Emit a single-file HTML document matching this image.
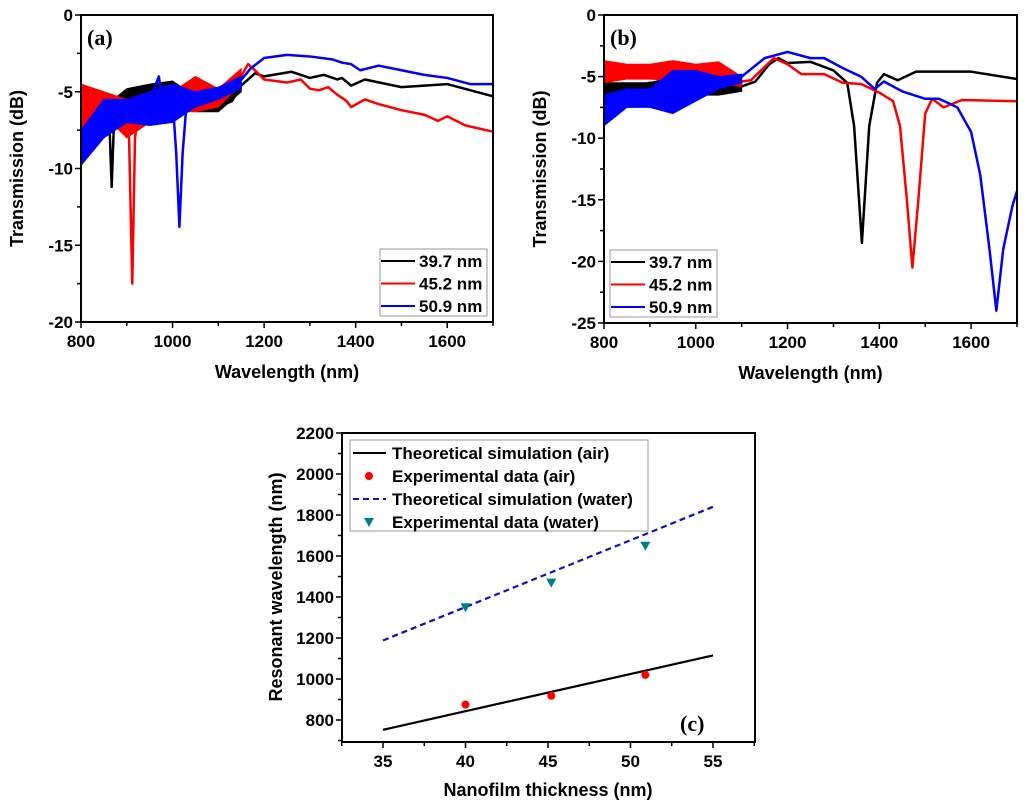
<!DOCTYPE html>
<html><head><meta charset="utf-8"><style>
html,body{margin:0;padding:0;background:#fff;}
svg{display:block;font-family:"Liberation Sans",Arial,sans-serif;font-weight:bold;}
</style></head><body>
<svg id="fig" width="1024" height="804" viewBox="0 0 1024 804" xmlns="http://www.w3.org/2000/svg"></svg>
<script>
// ---------- Panel (a) data ----------
const aBlackX=[800,820,850,862,867,872,880,900,950,1000,1020,1050,1080,1100,1130,1150,1180,1200,1260,1300,1330,1360,1370,1390,1420,1500,1600,1650,1700];
const aBlackY=[-6,-5.8,-6.2,-7,-11.2,-7,-5.5,-5,-4.9,-4.8,-5.5,-5.7,-6,-6,-5.6,-4.6,-3.8,-4,-3.7,-4.1,-3.9,-4.2,-4.1,-4.6,-4.2,-4.7,-4.5,-4.9,-5.3];
const aRedX=[800,810,830,850,880,900,905,912,918,925,950,1000,1050,1065,1080,1100,1140,1165,1180,1200,1250,1280,1300,1320,1340,1360,1380,1390,1420,1450,1500,1550,1580,1600,1640,1700];
const aRedY=[-6,-5,-5.5,-5.5,-6.5,-7,-8,-17.5,-8,-6.5,-6.5,-5.5,-5.5,-4.5,-5.7,-5.5,-4.5,-3.2,-3.6,-4.2,-4.4,-4.2,-4.8,-4.9,-4.7,-5.2,-5.6,-6,-5.5,-5.8,-6.2,-6.5,-6.9,-6.6,-7.2,-7.6];
const aBlueX=[800,820,840,870,900,950,970,980,1000,1008,1015,1022,1030,1050,1100,1140,1170,1200,1250,1300,1350,1370,1390,1410,1450,1500,1550,1600,1650,1700];
const aBlueY=[-9,-8,-6.5,-6,-6.2,-5.6,-4,-6,-5.5,-9,-13.8,-9,-6,-5.5,-5,-4.6,-3.5,-2.8,-2.6,-2.7,-2.9,-3.1,-3.2,-3.6,-3.3,-3.6,-3.9,-4.1,-4.5,-4.5];
const aBandX=[800,850,900,950,1000,1050,1100,1150];
const aBlackUp=[-6,-6,-4.8,-4.5,-4.3,-5.3,-5.5,-4.6];
const aBlackLo=[-7,-7,-6.5,-6,-6,-6.3,-6.3,-5];
const aRedUp=[-4.5,-5,-5.5,-5,-5,-4,-4.8,-3.5];
const aRedLo=[-7.5,-6.5,-8,-7,-6.3,-6.3,-6,-4.5];
const aBlueUp=[-7.5,-5.5,-5.5,-5,-4.5,-5,-4.7,-4];
const aBlueLo=[-9.8,-8,-7,-7.2,-7,-6,-5.5,-4.8];
// ---------- Panel (b) data ----------
const bBlackX=[800,850,900,1000,1100,1130,1160,1180,1200,1250,1300,1330,1345,1362,1378,1395,1410,1440,1480,1600,1700];
const bBlackY=[-6,-6,-5.5,-5.5,-5.8,-5.4,-4,-3.5,-3.9,-3.8,-4.5,-5.5,-9,-18.5,-9,-5.5,-4.8,-5.3,-4.6,-4.6,-5.2];
const bRedX=[800,900,1000,1040,1080,1120,1170,1200,1230,1280,1320,1360,1400,1430,1445,1460,1472,1485,1500,1515,1540,1580,1700];
const bRedY=[-4.5,-4.5,-4.5,-4.5,-5.5,-5.3,-3.5,-4,-4.8,-4.8,-5.5,-5.6,-6.3,-7,-9,-15,-20.5,-15,-8,-6.8,-7.5,-6.9,-7];
const bBlueX=[800,830,870,900,950,1000,1100,1150,1200,1250,1280,1320,1360,1390,1410,1450,1500,1530,1570,1600,1620,1640,1655,1670,1690,1700];
const bBlueY=[-8.5,-7.5,-6.7,-6.5,-6,-5.5,-5,-3.5,-3,-3.5,-3.5,-4.3,-5,-6,-5.4,-6.2,-6.8,-6.8,-7.5,-9.5,-13,-19,-24,-19,-15.5,-14.3];
const bBandX=[800,850,900,950,1000,1050,1100];
const bBlackUp=[-5.5,-5.5,-5.5,-5,-5.2,-5.5,-5.5];
const bBlackLo=[-6.6,-6.6,-6.5,-6.5,-6.5,-6.5,-6.2];
const bRedUp=[-3.7,-4,-4,-3.7,-4,-3.8,-5];
const bRedLo=[-5.5,-5.2,-5.2,-5.3,-5.3,-5.6,-5.8];
const bBlueUp=[-6.5,-6,-6,-4.5,-4.5,-5,-4.8];
const bBlueLo=[-9,-7.5,-7.5,-8,-7,-6,-5.5];
// ---------- Panel (c) data ----------
const cTheoryX=[35,55];
const cTheoryAir=[752,1115];
const cTheoryWater=[1188,1840];
const cExpX=[40,45.2,50.9];
const cExpAir=[875,918,1020];
const cExpWater=[1350,1470,1650];
const specXTicks=[800,1000,1200,1400,1600];
const aYTicks=[0,-5,-10,-15,-20];
const bYTicks=[0,-5,-10,-15,-20,-25];
const cXTicks=[35,40,45,50,55];
const cYTicks=[800,1000,1200,1400,1600,1800,2000,2200];
const legendLabels=["39.7 nm","45.2 nm","50.9 nm"];

const NS="http://www.w3.org/2000/svg";
const svg=document.getElementById('fig');
function el(tag,attrs,parent,text){const e=document.createElementNS(NS,tag);for(const k in attrs)e.setAttribute(k,attrs[k]);if(text!==undefined)e.textContent=text;(parent||svg).appendChild(e);return e;}
function scale(d0,d1,r0,r1){return v=>r0+(v-d0)*(r1-r0)/(d1-d0);}

function frame(g,L,T,R,B){
  const r=el('rect',{x:L,y:T,width:R-L,height:B-T,fill:'none',stroke:'#000','stroke-width':2},g);
  
}
function xAxis(g,sx,B,ticks,minorStep,lo,hi,name){
  for(let v=lo;v<=hi+1e-9;v+=minorStep){const x=sx(v);const major=ticks.some(t=>Math.abs(t-v)<1e-9);
    el('line',{x1:x,x2:x,y1:B,y2:B+(major?6:4),stroke:'#000','stroke-width':1.5},g);}
  ticks.forEach(t=>{const tx=el('text',{x:sx(t),y:B+25,'font-size':17,'text-anchor':'middle'},g,String(t));
    });
}
function yAxis(g,sy,L,ticks,minorStep,lo,hi,name){
  for(let v=lo;v<=hi+1e-9;v+=minorStep){const y=sy(v);const major=ticks.some(t=>Math.abs(t-v)<1e-9);
    el('line',{x1:L,x2:L-(major?6:4),y1:y,y2:y,stroke:'#000','stroke-width':1.5},g);}
  ticks.forEach(t=>{const tx=el('text',{x:L-8,y:sy(t)+6,'font-size':17,'text-anchor':'end'},g,String(t));
    });
}
function line(g,sx,sy,X,Y,color,w,name,dash){
  const p=el('polyline',{points:X.map((x,i)=>sx(x)+','+sy(Y[i])).join(' '),fill:'none',stroke:color,'stroke-width':w,'stroke-linejoin':'round'},g);
  if(dash)p.setAttribute('stroke-dasharray',dash);
  
}
function band(g,sx,sy,X,U,Lo,color,name){
  const pts=X.map((x,i)=>sx(x)+','+sy(U[i])).concat(X.slice().reverse().map((x,i)=>sx(x)+','+sy(Lo[X.length-1-i])));
  const p=el('polygon',{points:pts.join(' '),fill:color,stroke:color,'stroke-width':1},g);
  
}
function spectrumPanel(opt){
  const g=el('g',{});
  const sx=scale(800,1700,opt.L,opt.R), sy=scale(0,opt.ymin,opt.T,opt.B);
  const cols=['#000','#ff0000','#0000ff'];
  opt.series.forEach((s,i)=>{band(g,sx,sy,opt.bandX,s.up,s.lo,cols[i],'noise-band-'+legendLabels[i].replace(/[ .]/g,''));
    line(g,sx,sy,s.x,s.y,cols[i],2.5,'trace-'+legendLabels[i].replace(/[ .]/g,''));});
  frame(g,opt.L,opt.T,opt.R,opt.B);
  xAxis(g,sx,opt.B,specXTicks,100,800,1700,'x-axis');
  yAxis(g,sy,opt.L,opt.yTicks,2.5,opt.ymin,0,'y-axis');
  const t1=el('text',{x:(opt.L+opt.R)/2,y:opt.B+56,'font-size':18,'text-anchor':'middle'},g,'Wavelength (nm)');
  
  const cy=(opt.T+opt.B)/2;
  const t2=el('text',{x:opt.L-58,y:cy,'font-size':18,'text-anchor':'middle',transform:`rotate(-90 ${opt.L-58} ${cy})`},g,'Transmission (dB)');
  
  const pl=el('text',{x:opt.L+6,y:opt.T+30,'font-size':22,'font-family':'Liberation Serif,serif'},g,opt.label);
  
  const lg=el('g',{},g);
  el('rect',{x:opt.lx,y:opt.ly,width:107,height:67,fill:'#fff',stroke:'#999','stroke-width':1},lg);
  legendLabels.forEach((lab,i)=>{const yy=opt.ly+12+i*22.5;
    el('line',{x1:opt.lx+1,x2:opt.lx+35,y1:yy,y2:yy,stroke:cols[i],'stroke-width':2},lg);
    const t=el('text',{x:opt.lx+39,y:yy+6,'font-size':17},lg,lab);
    });
}
spectrumPanel({name:'panel-a',label:'(a)',L:81,R:493,T:15,B:322,ymin:-20,yTicks:aYTicks,lx:380,ly:249,bandX:aBandX,
  series:[{x:aBlackX,y:aBlackY,up:aBlackUp,lo:aBlackLo},{x:aRedX,y:aRedY,up:aRedUp,lo:aRedLo},{x:aBlueX,y:aBlueY,up:aBlueUp,lo:aBlueLo}]});
spectrumPanel({name:'panel-b',label:'(b)',L:604,R:1017,T:15,B:323,ymin:-25,yTicks:bYTicks,lx:610,ly:250,bandX:bBandX,
  series:[{x:bBlackX,y:bBlackY,up:bBlackUp,lo:bBlackLo},{x:bRedX,y:bRedY,up:bRedUp,lo:bRedLo},{x:bBlueX,y:bBlueY,up:bBlueUp,lo:bBlueLo}]});

(function(){
  const g=el('g',{});
  const L=342,R=755,T=433,B=742;
  const sx=scale(35,55,383,713), sy=scale(800,2200,720,433);
  line(g,sx,sy,cTheoryX,cTheoryAir,'#000',2.2,'theory-air-line');
  line(g,sx,sy,cTheoryX,cTheoryWater,'#1010c0',2.2,'theory-water-line','6,4');
  cExpX.forEach((x,i)=>{const c=el('circle',{cx:sx(x),cy:sy(cExpAir[i]),r:4,fill:'#ff0000'},g);
    });
  cExpX.forEach((x,i)=>{const X=sx(x),Y=sy(cExpWater[i]);
    const p=el('polygon',{points:`${X-5},${Y-4} ${X+5},${Y-4} ${X},${Y+5}`,fill:'#008080'},g);
    });
  frame(g,L,T,R,B);
  for(let v=32.5;v<=57.5+1e-9;v+=2.5){const x=sx(v);const major=cXTicks.includes(v);
    el('line',{x1:x,x2:x,y1:B,y2:B+(major?6:4),stroke:'#000','stroke-width':1.5},g);}
  cXTicks.forEach(t=>{const tx=el('text',{x:sx(t),y:B+25,'font-size':17,'text-anchor':'middle'},g,String(t));
    });
  for(let v=700;v<=2200;v+=100){const y=sy(v);const major=cYTicks.includes(v);
    el('line',{x1:L,x2:L-(major?6:4),y1:y,y2:y,stroke:'#000','stroke-width':1.5},g);}
  cYTicks.forEach(t=>{const tx=el('text',{x:L-8,y:sy(t)+6,'font-size':17,'text-anchor':'end'},g,String(t));
    });
  const t1=el('text',{x:548,y:796,'font-size':18,'text-anchor':'middle'},g,'Nanofilm thickness (nm)');
  
  const t2=el('text',{x:282,y:587,'font-size':18,'text-anchor':'middle',transform:'rotate(-90 282 587)'},g,'Resonant wavelength (nm)');
  
  const pl=el('text',{x:680,y:731,'font-size':22,'font-family':'Liberation Serif,serif'},g,'(c)');
  
  const lg=el('g',{},g);
  el('rect',{x:350,y:440,width:298,height:91,fill:'#fff',stroke:'#999','stroke-width':1},lg);
  const labs=['Theoretical simulation (air)','Experimental data (air)','Theoretical simulation (water)','Experimental data (water)'];
  labs.forEach((lab,i)=>{const yy=453+i*23;
    if(i===0)el('line',{x1:353,x2:386,y1:yy,y2:yy,stroke:'#000','stroke-width':2},lg);
    if(i===1)el('circle',{cx:369,cy:yy,r:4,fill:'#ff0000'},lg);
    if(i===2)el('line',{x1:353,x2:386,y1:yy,y2:yy,stroke:'#1010c0','stroke-width':2,'stroke-dasharray':'6,4'},lg);
    if(i===3)el('polygon',{points:`364,${yy-4} 374,${yy-4} 369,${yy+5}`,fill:'#008080'},lg);
    const t=el('text',{x:392,y:yy+6,'font-size':17},lg,lab);
    });
})();
</script>
</body></html>
